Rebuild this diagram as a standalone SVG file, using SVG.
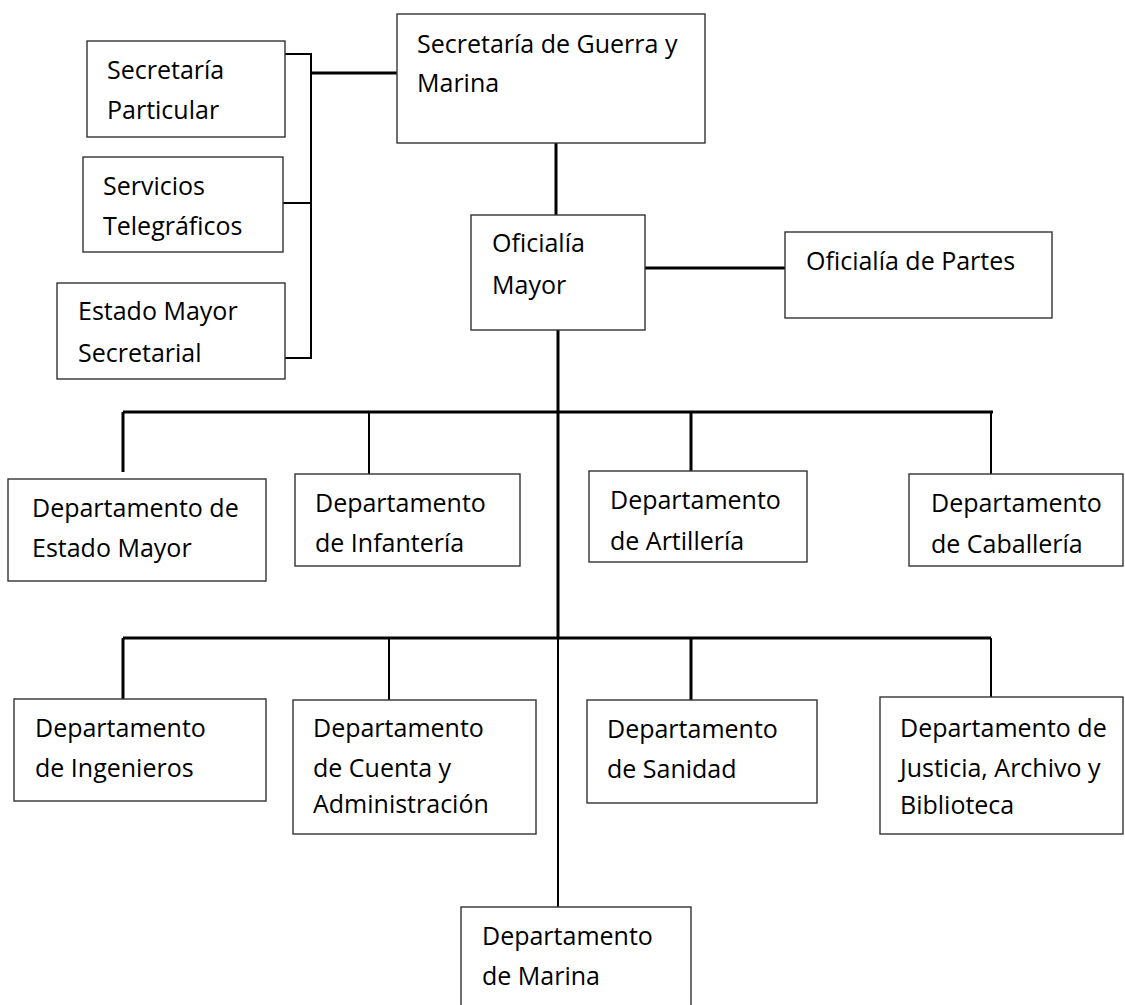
<svg xmlns="http://www.w3.org/2000/svg" width="1125" height="1005" viewBox="0 0 1125 1005">
<style>
  .box { fill: #ffffff; stroke: #333333; stroke-width: 1.4; }
  .t { font-family: "Open Sans", "Liberation Sans", sans-serif; font-size: 25px; fill: #000000; }
  .c3 { fill: none; stroke: #000000; stroke-width: 3; }
  .c2 { fill: none; stroke: #000000; stroke-width: 2; }
</style>
<rect x="0" y="0" width="1125" height="1005" fill="#ffffff"/>
<g id="connectors">
  <path class="c2" d="M285,54 H311 V358 H285"/>
  <path class="c2" d="M283,203 H311"/>
  <path class="c3" d="M311,73 H397"/>
  <path class="c3" d="M556,143 V215"/>
  <path class="c3" d="M645,268 H785"/>
  <path class="c3" d="M558,330 V638"/>
  <path class="c2" d="M558,638 V907"/>
  <path class="c3" d="M123,412 H993"/>
  <path class="c3" d="M123,412 V472"/>
  <path class="c2" d="M369,412 V474"/>
  <path class="c3" d="M691,412 V471"/>
  <path class="c2" d="M991,412 V474"/>
  <path class="c3" d="M123,638 H991"/>
  <path class="c2" d="M991,638 V697"/>
  <path class="c3" d="M123,638 V699"/>
  <path class="c2" d="M389,638 V700"/>
  <path class="c3" d="M691,638 V700"/>
</g>
<g id="secretaria-guerra-marina">
  <rect class="box" x="397" y="14" width="308" height="129"/>
  <text class="t" x="417" y="53">Secretaría de Guerra y</text>
  <text class="t" x="417" y="92">Marina</text>
</g>
<g id="secretaria-particular">
  <rect class="box" x="87" y="41" width="198" height="96"/>
  <text class="t" x="107" y="79">Secretaría</text>
  <text class="t" x="107" y="119">Particular</text>
</g>
<g id="servicios-telegraficos">
  <rect class="box" x="83" y="157" width="200" height="95"/>
  <text class="t" x="103" y="195">Servicios</text>
  <text class="t" x="103" y="235">Telegráficos</text>
</g>
<g id="estado-mayor-secretarial">
  <rect class="box" x="57" y="283" width="228" height="96"/>
  <text class="t" x="78" y="320">Estado Mayor</text>
  <text class="t" x="78" y="362">Secretarial</text>
</g>
<g id="oficialia-mayor">
  <rect class="box" x="471" y="215" width="174" height="115"/>
  <text class="t" x="492" y="252">Oficialía</text>
  <text class="t" x="492" y="294">Mayor</text>
</g>
<g id="oficialia-partes">
  <rect class="box" x="785" y="232" width="267" height="86"/>
  <text class="t" x="806" y="270">Oficialía de Partes</text>
</g>
<g id="dep-estado-mayor">
  <rect class="box" x="8" y="479" width="258" height="102"/>
  <text class="t" x="32" y="517">Departamento de</text>
  <text class="t" x="32" y="557">Estado Mayor</text>
</g>
<g id="dep-infanteria">
  <rect class="box" x="295" y="474" width="225" height="92"/>
  <text class="t" x="315" y="512">Departamento</text>
  <text class="t" x="315" y="552">de Infantería</text>
</g>
<g id="dep-artilleria">
  <rect class="box" x="589" y="471" width="218" height="91"/>
  <text class="t" x="610" y="509">Departamento</text>
  <text class="t" x="610" y="550">de Artillería</text>
</g>
<g id="dep-caballeria">
  <rect class="box" x="909" y="474" width="214" height="92"/>
  <text class="t" x="931" y="512">Departamento</text>
  <text class="t" x="931" y="553">de Caballería</text>
</g>
<g id="dep-ingenieros">
  <rect class="box" x="14" y="699" width="252" height="102"/>
  <text class="t" x="35" y="737">Departamento</text>
  <text class="t" x="35" y="777">de Ingenieros</text>
</g>
<g id="dep-cuenta">
  <rect class="box" x="293" y="700" width="243" height="134"/>
  <text class="t" x="313" y="737">Departamento</text>
  <text class="t" x="313" y="777">de Cuenta y</text>
  <text class="t" x="313" y="813">Administración</text>
</g>
<g id="dep-sanidad">
  <rect class="box" x="587" y="700" width="230" height="103"/>
  <text class="t" x="607" y="738">Departamento</text>
  <text class="t" x="607" y="778">de Sanidad</text>
</g>
<g id="dep-justicia">
  <rect class="box" x="880" y="697" width="243" height="137"/>
  <text class="t" x="900" y="737">Departamento de</text>
  <text class="t" x="900" y="777">Justicia, Archivo y</text>
  <text class="t" x="900" y="814">Biblioteca</text>
</g>
<g id="dep-marina">
  <rect class="box" x="461" y="907" width="230" height="110"/>
  <text class="t" x="482" y="945">Departamento</text>
  <text class="t" x="482" y="985">de Marina</text>
</g>
</svg>
